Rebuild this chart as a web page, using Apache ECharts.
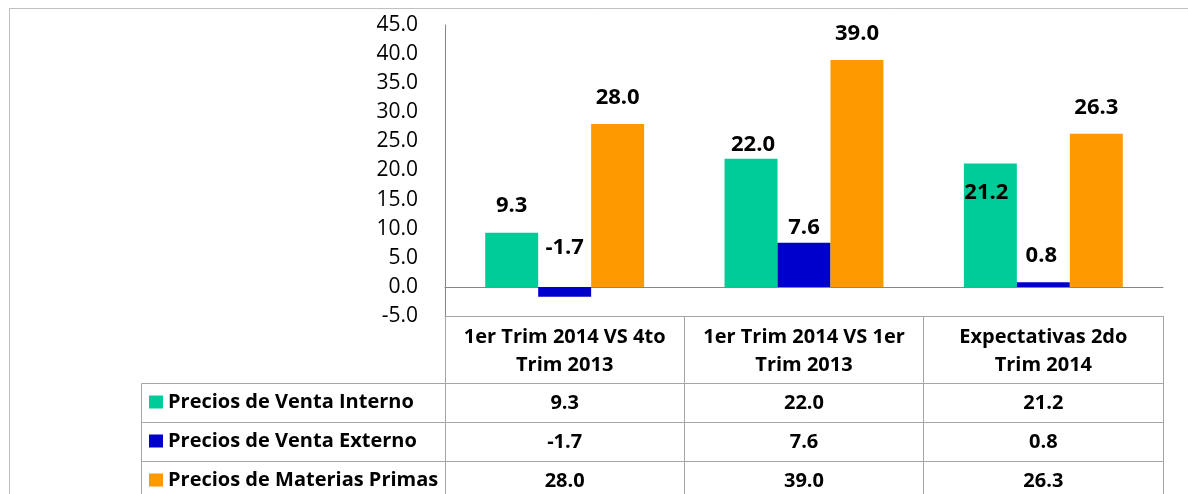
<!DOCTYPE html>
<html>
<head>
<meta charset="utf-8">
<script src="https://cdn.jsdelivr.net/npm/echarts@6/dist/echarts.min.js"></script>
<style>
  html, body { margin: 0; padding: 0; background: #fff; }
  #chart { width: 1188px; height: 494px; }
</style>
</head>
<body>
<div id="chart"></div>
<script>
// datos del grafico
const categories = ['1er Trim 2014 VS 4to\nTrim 2013', '1er Trim 2014 VS 1er\nTrim 2013', 'Expectativas 2do\nTrim 2014'];
const seriesNames = ['Precios de Venta Interno', 'Precios de Venta Externo', 'Precios de Materias Primas'];
const ventaInterno = [9.3, 22.0, 21.2];
const ventaExterno = [-1.7, 7.6, 0.8];
const materiasPrimas = [28.0, 39.0, 26.3];
const yMin = -5;
const yMax = 45;
const yStep = 5;

const colors = ['#00CC99', '#0000CC', '#FF9900'];
const font = 'Open Sans';
const gridLine = '#a6a6a6';

// desplazamiento manual de las etiquetas (como en el original)
const labelNudges = [
    [[0, -27], [2, -14], [-4, 29.5]],
    [[0, -39.5], [0, -14.5], [-2, -27]],
    [[0, -26], [0, -26], [0, -26.5]]
];

const rows = [ventaInterno, ventaExterno, materiasPrimas];
const chart = echarts.init(document.getElementById('chart'));

// ejes de la tabla de datos
const rowOffsets = [67, 106, 145];
const tableAxes = rows.map((vals, r) => ({
    type: 'category',
    gridIndex: 0,
    position: 'bottom',
    offset: rowOffsets[r],
    data: categories,
    axisLine: { show: true, onZero: false, lineStyle: { color: gridLine, width: 1 } },
    axisTick: { show: true, interval: 0, length: 39, lineStyle: { color: gridLine } },
    axisLabel: {
        interval: 0,
        margin: 8,
        fontFamily: font,
        fontSize: 20,
        fontWeight: 'bold',
        lineHeight: 24,
        color: '#000',
        formatter: (v, idx) => vals[idx].toFixed(1)
    }
}));

const option = {
    animation: false,
    backgroundColor: '#fff',
    grid: { left: 445, right: 25, top: 25, height: 291, containLabel: false },
    legend: {
        orient: 'vertical',
        left: 149,
        top: 391,
        padding: 0,
        itemGap: 17,
        itemWidth: 14,
        itemHeight: 13,
        selectedMode: false,
        icon: 'rect',
        data: seriesNames,
        textStyle: { fontFamily: font, fontSize: 20, fontWeight: 'bold', color: '#000', lineHeight: 22 }
    },
    xAxis: [
        {
            type: 'category',
            position: 'bottom',
            data: categories,
            axisLine: { show: true, onZero: false, lineStyle: { color: gridLine } },
            axisTick: { show: true, interval: 0, length: 67, lineStyle: { color: gridLine } },
            axisLabel: {
                interval: 0,
                margin: 7,
                fontFamily: font,
                fontSize: 20,
                fontWeight: 'bold',
                lineHeight: 28,
                color: '#000'
            }
        },
        {
            // linea del cero
            type: 'category',
            position: 'bottom',
            data: categories,
            axisLine: { show: true, onZero: true, lineStyle: { color: '#868686' } },
            axisTick: { show: false },
            axisLabel: { show: false }
        },
        ...tableAxes
    ],
    yAxis: {
        type: 'value',
        min: yMin,
        max: yMax,
        interval: yStep,
        axisLine: { show: true, lineStyle: { color: '#868686' } },
        axisTick: { show: false },
        splitLine: { show: false },
        axisLabel: {
            margin: 27,
            fontFamily: font,
            fontSize: 21,
            color: '#000',
            formatter: v => v.toFixed(1)
        }
    },
    series: rows.map((vals, s) => ({
        name: seriesNames[s],
        type: 'bar',
        xAxisIndex: 0,
        barGap: '0%',
        barCategoryGap: '33.6%',
        itemStyle: { color: colors[s] },
        data: vals.map((v, i) => ({
            value: v,
            label: { offset: labelNudges[s][i] }
        })),
        label: {
            show: true,
            position: 'top',
            distance: 0,
            verticalAlign: 'middle',
            align: 'center',
            fontFamily: font,
            fontSize: 22,
            fontWeight: 'bold',
            color: '#000',
            formatter: p => p.value.toFixed(1)
        }
    })),
    graphic: [
        // marco exterior
        { type: 'line', shape: { x1: 9.5, y1: 8.5, x2: 1188, y2: 8.5 }, style: { stroke: '#bfbfbf', lineWidth: 1 }, silent: true },
        { type: 'line', shape: { x1: 9.5, y1: 8.5, x2: 9.5, y2: 494 }, style: { stroke: '#bfbfbf', lineWidth: 1 }, silent: true },
        // columna de leyenda de la tabla
        { type: 'line', shape: { x1: 141.5, y1: 383.5, x2: 445, y2: 383.5 }, style: { stroke: gridLine, lineWidth: 1 }, silent: true },
        { type: 'line', shape: { x1: 141.5, y1: 422.5, x2: 445, y2: 422.5 }, style: { stroke: gridLine, lineWidth: 1 }, silent: true },
        { type: 'line', shape: { x1: 141.5, y1: 461.5, x2: 445, y2: 461.5 }, style: { stroke: gridLine, lineWidth: 1 }, silent: true },
        { type: 'line', shape: { x1: 141.5, y1: 383.5, x2: 141.5, y2: 494 }, style: { stroke: gridLine, lineWidth: 1 }, silent: true }
    ]
};

chart.setOption(option);
</script>
</body>
</html>
